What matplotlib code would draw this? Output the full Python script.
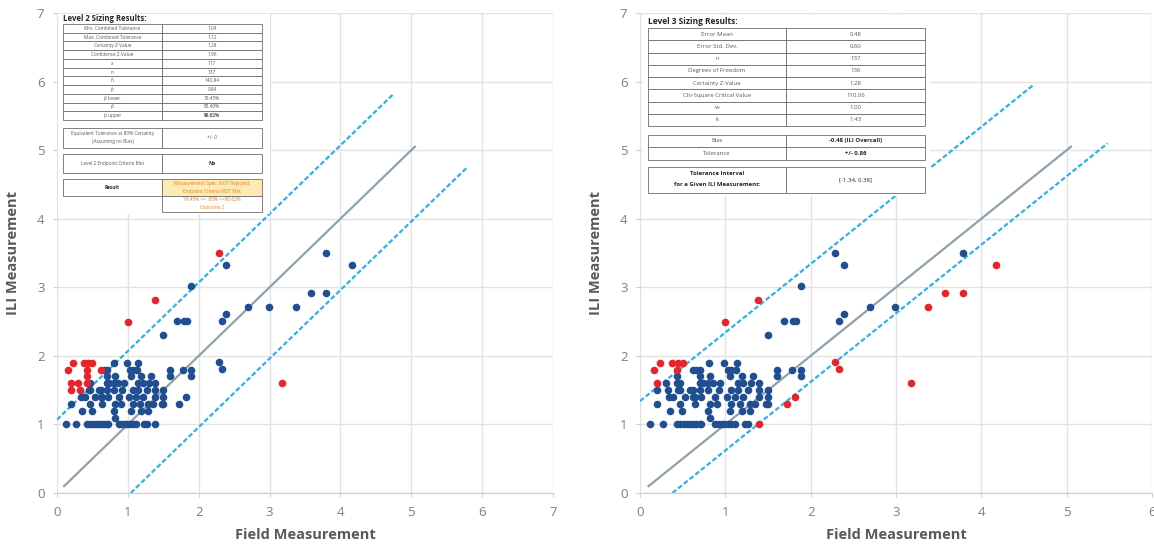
import matplotlib
matplotlib.use("Agg")
import matplotlib.pyplot as plt
from matplotlib.patches import Rectangle
import numpy as np

plt.rcParams['font.family'] = ['Open Sans', 'DejaVu Sans']

# ---------------- data ----------------
field = [
    # y = 1.9
    0.23, 0.38, 0.44, 0.50, 0.81, 0.99, 1.14, 2.29,
    # y = 1.8
    0.16, 0.43, 0.62, 0.66, 0.70, 1.03, 1.07, 1.13, 1.60, 1.78, 1.89, 2.33,
    # y = 1.7
    0.43, 0.70, 0.82, 1.05, 1.19, 1.33, 1.60, 1.89,
    # y = 1.6
    0.195, 0.30, 0.43, 0.47, 0.70, 0.74, 0.80, 0.86, 0.94, 1.15, 1.21, 1.30, 1.39,
    # y = 1.5
    0.195, 0.33, 0.45, 0.47, 0.59, 0.62, 0.70, 0.80, 0.92, 1.07, 1.15, 1.27, 1.39, 1.50,
    # y = 1.4
    0.34, 0.39, 0.53, 0.62, 0.64, 0.72, 0.88, 1.02, 1.11, 1.21, 1.39, 1.50, 1.82,
    # y = 1.3
    0.195, 0.47, 0.64, 0.82, 0.90, 1.07, 1.17, 1.29, 1.35, 1.48, 1.50, 1.72,
    # y = 1.2
    0.35, 0.49, 0.80, 1.05, 1.19, 1.29,
    # y = 1.1
    0.82,
    # y = 1.0
    0.12, 0.27, 0.43, 0.47, 0.51, 0.55, 0.59, 0.62, 0.66, 0.70, 0.72, 0.88,
    0.92, 0.96, 0.99, 1.03, 1.07, 1.11, 1.23, 1.27, 1.39,
    # outliers
    2.29, 2.39, 1.89, 1.38, 1.69, 1.79, 1.83, 1.50, 2.33, 2.39, 2.69, 2.99,
    3.38, 3.58, 3.79, 3.79, 4.17, 3.18, 1.00,
]
ili = [
    1.9, 1.9, 1.9, 1.9, 1.9, 1.9, 1.9, 1.91,
    1.8, 1.8, 1.8, 1.8, 1.8, 1.8, 1.8, 1.8, 1.8, 1.8, 1.8, 1.81,
    1.7, 1.7, 1.7, 1.7, 1.7, 1.7, 1.7, 1.7,
    1.6, 1.6, 1.6, 1.6, 1.6, 1.6, 1.6, 1.6, 1.6, 1.6, 1.6, 1.6, 1.6,
    1.5, 1.5, 1.5, 1.5, 1.5, 1.5, 1.5, 1.5, 1.5, 1.5, 1.5, 1.5, 1.5, 1.5,
    1.4, 1.4, 1.4, 1.4, 1.4, 1.4, 1.4, 1.4, 1.4, 1.4, 1.4, 1.4, 1.4,
    1.3, 1.3, 1.3, 1.3, 1.3, 1.3, 1.3, 1.3, 1.3, 1.3, 1.3, 1.3,
    1.2, 1.2, 1.2, 1.2, 1.2, 1.2,
    1.1,
    1.0, 1.0, 1.0, 1.0, 1.0, 1.0, 1.0, 1.0, 1.0, 1.0, 1.0, 1.0,
    1.0, 1.0, 1.0, 1.0, 1.0, 1.0, 1.0, 1.0, 1.0,
    3.50, 3.32, 3.02, 2.81, 2.51, 2.51, 2.51, 2.31, 2.51, 2.61, 2.71, 2.71,
    2.71, 2.92, 2.92, 3.50, 3.32, 1.61, 2.50,
]

# Level 2 limits (upper / lower tolerance band) and level 3 tolerance interval
l2_upper, l2_lower = 1.07, -1.04
l3_upper, l3_lower = 1.34, -0.38
l2_red_hi, l2_red_lo = 1.15, -1.04
l3_red_hi, l3_red_lo = 1.33, -0.37

l2_rows = ["Min. Combined Tolerance", "Max. Combined Tolerance", "Certainty Z-Value",
           "Confidence Z-Value", "x", "n", "\u00f1", "p\u0303", "p\u0303 lower", "p\u0302", "p\u0303 upper"]
l2_vals = ["1.04", "1.12", "1.28", "1.96", "117", "137", "140.84", "0.84", "79.45%", "85.40%", "90.62%"]

l3_rows = ["Error Mean", "Error Std. Dev.", "n", "Degrees of Freedom", "Certainty Z-Value",
           "Chi-Square Critical Value", "w", "k"]
l3_vals = ["0.48", "0.60", "137", "136", "1.28", "110.06", "1.00", "1.43"]

# ---------------- styling ----------------
BLUE = "#1f4e91"
RED = "#e8232b"
GREY_LINE = "#8fa2ab"
CYAN = "#29b3ea"
GRID = "#e2e2e2"
TICK = "#7f7f7f"
LABEL = "#595959"
W, H = 1154, 546

fig = plt.figure(figsize=(W / 100, H / 100), dpi=100)
fig.patch.set_facecolor("white")


def px_axes(x0, x1, y_top, y_bot):
    return fig.add_axes([x0 / W, 1 - y_bot / H, (x1 - x0) / W, (y_bot - y_top) / H])


axL = px_axes(57, 553, 13, 493)
axR = px_axes(640, 1152, 13, 493)

f = np.array(field)
g = np.array(ili)
d = g - f


def style(ax, xmax):
    ax.set_xlim(0, xmax)
    ax.set_ylim(0, 7)
    ax.set_xticks(range(0, xmax + 1))
    ax.set_yticks(range(0, 8))
    ax.grid(True, color=GRID, lw=1.0, zorder=0)
    for s in ["top", "right", "left"]:
        ax.spines[s].set_visible(False)
    ax.spines["bottom"].set_color("#cfcfcf")
    ax.tick_params(colors="#cfcfcf", labelcolor=TICK, labelsize=9.5, length=3, width=0.8)
    ax.tick_params(axis="x", pad=6)
    ax.tick_params(axis="y", pad=6)
    ax.set_axisbelow(True)
    ax.set_xlabel("Field Measurement", fontsize=10.5, fontweight="bold", color=LABEL, labelpad=7)
    ax.set_ylabel("ILI Measurement", fontsize=10.5, fontweight="bold", color=LABEL, labelpad=12)


style(axL, 7)
style(axR, 6)

line_x = np.array([0.1, 5.05])
for ax, up, lo in [(axL, l2_upper, l2_lower), (axR, l3_upper, l3_lower)]:
    ax.plot(line_x, line_x, color=GREY_LINE, lw=1.6, zorder=2)
    xs_up = np.array([0.0, 5.95 - up]) if ax is axR else np.array([0.0, 4.74])
    ax.plot(xs_up, xs_up + up, color=CYAN, lw=1.6, dashes=(2.2, 1.1), zorder=2)
    xs_lo = np.array([-lo, 5.1 - lo]) if ax is axR else np.array([-lo, 5.8])
    ax.plot(xs_lo, xs_lo + lo, color=CYAN, lw=1.6, dashes=(2.2, 1.1), zorder=2)

redL = (d > l2_red_hi) | (d < l2_red_lo)
redR = (d > l3_red_hi) | (d < l3_red_lo)
for ax, red in [(axL, redL), (axR, redR)]:
    ax.scatter(f[~red], g[~red], s=30, color=BLUE, linewidths=0, zorder=3)
    ax.scatter(f[red], g[red], s=30, color=RED, linewidths=0, zorder=3)

# ---------------- overlay for tables ----------------
ov = fig.add_axes([0, 0, 1, 1], zorder=10)
ov.set_xlim(0, W)
ov.set_ylim(H, 0)
ov.axis("off")
ov.patch.set_alpha(0)

EDGE = "#6d6d6d"
TXT = "#595959"


def cell(x0, x1, y0, y1, fc="white", lw=0.6):
    ov.add_patch(Rectangle((x0, y0), x1 - x0, y1 - y0, facecolor=fc, edgecolor=EDGE, lw=lw, zorder=11))


def txt(x, y, s, size, color=TXT, weight="normal", ha="center"):
    ov.text(x, y, s, fontsize=size, color=color, fontweight=weight, ha=ha, va="center", zorder=12)


# Level 2 table
lx0, lxm, lx1 = 63, 162, 262
ov.add_patch(Rectangle((58, 14), 212, 200, facecolor="white", edgecolor="none", zorder=10))
txt(63, 18.5, "Level 2 Sizing Results:", 5.6, color="#262626", weight="bold", ha="left")
top, rh = 24, 8.73
for i, (r, v) in enumerate(zip(l2_rows, l2_vals)):
    y0 = top + i * rh
    cell(lx0, lxm, y0, y0 + rh)
    cell(lxm, lx1, y0, y0 + rh)
    txt((lx0 + lxm) / 2, y0 + rh / 2, r, 3.4)
    txt((lxm + lx1) / 2, y0 + rh / 2, v, 3.4, weight="bold" if i == len(l2_rows) - 1 else "normal")

cell(lx0, lxm, 127.5, 148)
cell(lxm, lx1, 127.5, 148)
txt((lx0 + lxm) / 2, 133.5, "Equivalent Tolerance at 80% Certainty", 3.4)
txt((lx0 + lxm) / 2, 141.5, "(Assuming no Bias)", 3.4)
txt((lxm + lx1) / 2, 137.8, "+/- 0", 3.4)

cell(lx0, lxm, 154, 173)
cell(lxm, lx1, 154, 173)
txt((lx0 + lxm) / 2, 163.5, "Level 2 Endpoint Criteria Met", 3.4)
txt((lxm + lx1) / 2, 163.5, "No", 3.6, color="#262626", weight="bold")

ORANGE = "#f07b1e"
cell(lx0, lxm, 179, 195.5)
cell(lxm, lx1, 179, 195.5, fc="#fdebb6")
cell(lxm, lx1, 195.5, 211.5)
txt((lx0 + lxm) / 2, 187.3, "Result", 3.4, color="#262626", weight="bold")
txt((lxm + lx1) / 2, 183.5, "Measurement Spec. NOT Rejected;", 3.4, color=ORANGE)
txt((lxm + lx1) / 2, 191.2, "Endpoint Criteria NOT Met", 3.4, color=ORANGE)
txt((lxm + lx1) / 2, 199.5, "79.45% <=  80% <=90.62%", 3.4, color=ORANGE)
txt((lxm + lx1) / 2, 207.3, "Outcome 2", 3.4, color=ORANGE)

# Level 3 table
rx0, rxm, rx1 = 648, 786, 925
ov.add_patch(Rectangle((643, 15), 287, 181, facecolor="white", edgecolor="none", zorder=10))
txt(648, 22, "Level 3 Sizing Results:", 6.0, color="#262626", weight="bold", ha="left")
top, rh = 28, 12.25
for i, (r, v) in enumerate(zip(l3_rows, l3_vals)):
    y0 = top + i * rh
    cell(rx0, rxm, y0, y0 + rh)
    cell(rxm, rx1, y0, y0 + rh)
    txt((rx0 + rxm) / 2, y0 + rh / 2, r, 4.3)
    txt((rxm + rx1) / 2, y0 + rh / 2, v, 4.3)

for j, (r, v) in enumerate([("Bias", "-0.48 (ILI Overcall)"), ("Tolerance", "+/- 0.86")]):
    y0 = 134.5 + j * 12.5
    cell(rx0, rxm, y0, y0 + 12.5)
    cell(rxm, rx1, y0, y0 + 12.5)
    txt((rx0 + rxm) / 2, y0 + 6.25, r, 4.3)
    txt((rxm + rx1) / 2, y0 + 6.25, v, 4.3, color="#262626", weight="bold")

cell(rx0, rxm, 166.5, 192.5)
cell(rxm, rx1, 166.5, 192.5)
txt((rx0 + rxm) / 2, 173.5, "Tolerance Interval", 4.3, color="#262626", weight="bold")
txt((rx0 + rxm) / 2, 185.0, "for a Given ILI Measurement:", 4.3, color="#262626", weight="bold")
txt((rxm + rx1) / 2, 179.5, "[-1.34, 0.38]", 4.3, color="#262626")

fig.savefig("out.png", dpi=100, facecolor="white")
